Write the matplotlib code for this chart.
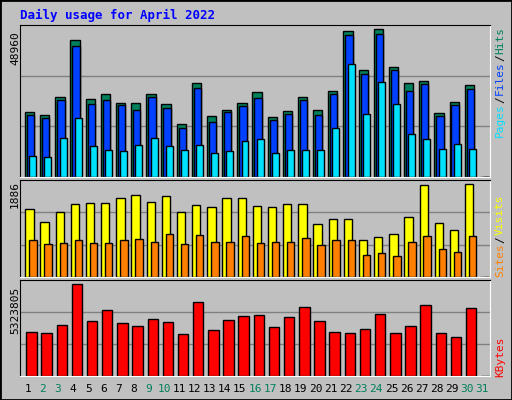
import matplotlib
matplotlib.use("Agg")
import matplotlib.pyplot as plt
import numpy as np

days = np.arange(1, 32)
weekend = [2, 3, 9, 10, 16, 17, 23, 24, 30, 31]

# April 2022 (day 31 has no data)
hits = [21645, 20646, 26640, 45288, 25974, 27639, 24642, 24642, 27639, 24309,
        17649, 31302, 20313, 22311, 24642, 28305, 19980, 21978, 26640, 22311,
        28638, 48285, 35631, 48960, 36630, 31302, 31968, 21312, 24975, 30636, 0]
files = [20646, 19647, 25641, 43290, 24309, 25641, 23976, 22311, 26640, 22977,
         16317, 29637, 18315, 21645, 23643, 26307, 18981, 20979, 25641, 20646,
         27639, 46953, 34299, 47286, 35631, 28638, 30969, 20313, 23976, 29304, 0]
pages = [6993, 6660, 12987, 19647, 10323, 8991, 8658, 10656, 12987, 10323,
         8991, 10656, 7992, 8658, 11988, 12654, 7992, 8991, 8991, 8991,
         16317, 37629, 20979, 31635, 24309, 14319, 12654, 9324, 10989, 9324, 0]
visits = [1373, 1106, 1311, 1475, 1496, 1496, 1598, 1660, 1516, 1639,
          1311, 1455, 1414, 1598, 1598, 1434, 1414, 1475, 1475, 1065,
          1168, 1168, 738, 799, 861, 1209, 1865, 1086, 943, 1886, 0]
sites = [738, 676, 697, 738, 697, 697, 738, 758, 717, 861,
         676, 840, 717, 717, 820, 697, 717, 717, 779, 656,
         738, 738, 451, 492, 430, 717, 820, 574, 512, 820, 0]
kbytes = [2574000, 2516000, 2925000, 5323805, 3159000, 3803000, 3042000, 2867000,
          3276000, 3101000, 2457000, 4271000, 2691000, 3218000, 3452000, 3510000,
          2808000, 3393000, 3978000, 3159000, 2574000, 2516000, 2750000, 3569000,
          2516000, 2867000, 4095000, 2516000, 2282000, 3920000, 0]

BG = "#c0c0c0"
GREEN = "#00805c"
W, H = 512, 400

fig = plt.figure(figsize=(5.12, 4.0), dpi=100, facecolor=BG)
# outer frame
fig.patches.append(plt.Rectangle((0, 0), 1, 1, transform=fig.transFigure,
                                 fill=False, edgecolor="black", lw=2))

def panel(y0, y1, top):
    ax = fig.add_axes([20 / W, 1 - y1 / H, 470 / W, (y1 - y0) / H])
    ax.set_facecolor(BG)
    ax.set_xlim(0.5, 31.5)
    ax.set_ylim(0, top)
    ax.set_xticks([])
    ax.set_yticks([])
    for t in (top / 3, 2 * top / 3):
        ax.axhline(t, color="#808080", lw=1, zorder=0)
    ax.spines["left"].set_color("black")
    ax.spines["top"].set_color("black")
    ax.spines["right"].set_color("white")
    ax.spines["bottom"].set_color("white")
    return ax

def bars(ax, vals, a, b, color):
    ax.bar(days + a, vals, width=b - a, align="edge", color=color,
           edgecolor="black", lw=1, zorder=2)

ax1 = panel(25, 177, 50400)
bars(ax1, hits, -0.17, 0.44, GREEN)
bars(ax1, files, -0.04, 0.44, "#0040ff")
bars(ax1, pages, 0.11, 0.57, "#00e0ff")

ax2 = panel(180, 277, 1960)
bars(ax2, visits, -0.15, 0.40, "#ffff00")
bars(ax2, sites, 0.11, 0.60, "#ff8000")

ax3 = panel(280, 376, 5558000)
bars(ax3, kbytes, -0.09, 0.60, "#ff0000")

mono = "DejaVu Sans Mono"
fig.text(20 / W, 1 - 15 / H, "Daily usage for April 2022", color="#0000ff",
         family=mono, weight="bold", fontsize=9, va="center")
fig.text(15 / W, 1 - 48 / H, "48960", rotation=90, family=mono, fontsize=8, va="center", ha="center")
fig.text(15 / W, 1 - 194 / H, "1886", rotation=90, family=mono, fontsize=8, va="center", ha="center")
fig.text(15 / W, 1 - 310 / H, "5323805", rotation=90, family=mono, fontsize=8, va="center", ha="center")

def side(parts, y_bottom):
    y = y_bottom
    for txt, col in parts:
        t = fig.text(500 / W, 1 - y / H, txt, rotation=90, family=mono,
                     fontsize=8, color=col, ha="center", va="bottom")
        y -= len(txt) * 6.6 + 1

side([("Pages", "#00e0ff"), ("/", "black"), ("Files", "#0040ff"),
      ("/", "black"), ("Hits", GREEN)], 137)
side([("Sites", "#ff8000"), ("/", "black"), ("Visits", "#ffff00")], 277)
side([("KBytes", "#ff0000")], 377)

for d in days:
    x = 20 + (d - 0.5) * 470 / 31
    fig.text(x / W, 1 - 389 / H, str(d), family=mono, fontsize=8,
             color=GREEN if d in weekend else "black", ha="center", va="center")

fig.savefig("out.png", dpi=100, facecolor=BG)
